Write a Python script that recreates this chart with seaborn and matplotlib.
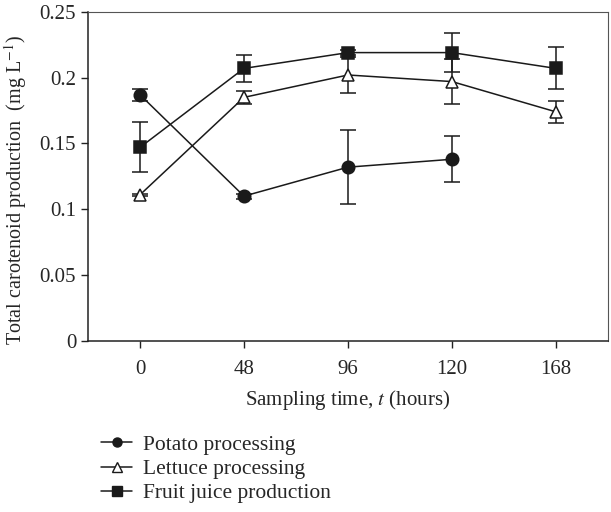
import numpy as np
import pandas as pd
import matplotlib
matplotlib.use("Agg")
import matplotlib.pyplot as plt
from matplotlib.lines import Line2D
import seaborn as sns

# data
times = ["0", "48", "96", "120", "168"]
potato = [0.187, 0.110, 0.132, 0.138, np.nan]
potato_err = [0.0045, 0.002, 0.028, 0.0175, np.nan]
lettuce = [0.111, 0.185, 0.202, 0.197, 0.174]
lettuce_err = [0.001, 0.005, 0.014, 0.017, 0.0085]
juice = [0.147, 0.207, 0.219, 0.219, 0.207]
juice_err = [0.019, 0.0105, 0.002, 0.015, 0.016]
names = ["Potato processing", "Lettuce processing", "Fruit juice production"]

sns.set_style("ticks")
plt.rcParams["font.family"] = ["Liberation Serif", "DejaVu Serif"]
plt.rcParams["mathtext.fontset"] = "stix"

rows = []
for name, vals, errs in zip(names, [potato, lettuce, juice], [potato_err, lettuce_err, juice_err]):
    for i, (v, e) in enumerate(zip(vals, errs)):
        rows.append({"pos": i, "time": times[i], "value": v, "err": e, "series": name})
df = pd.DataFrame(rows).dropna()

fig = plt.figure(figsize=(6.11, 5.12), dpi=100)
ax = fig.add_axes([0.144, 0.334, 0.851, 0.643])

styles = {
    "Potato processing": dict(marker="o", mfc="#1a1a1a", ms=9),
    "Lettuce processing": dict(marker="^", mfc="white", ms=9),
    "Fruit juice production": dict(marker="s", mfc="#1a1a1a", ms=8),
}

for name in names:
    d = df[df["series"] == name]
    ax.errorbar(d["pos"], d["value"], yerr=d["err"], fmt="none", ecolor="#1a1a1a",
                elinewidth=1.1, capsize=6, capthick=1.1, zorder=2)

sns.lineplot(data=df, x="pos", y="value", hue="series", style="series",
             markers={"Potato processing": "o", "Lettuce processing": "^",
                      "Fruit juice production": "s"},
             dashes=False, palette=["#1a1a1a"] * 3, linewidth=1.1,
             markersize=9, ax=ax, legend=False, zorder=3)

# restyle markers (fill colors)
for line, name in zip(ax.get_lines()[-3:], names):
    st = styles[name]
    line.set_markerfacecolor(st["mfc"])
    line.set_markeredgecolor("#1a1a1a")
    line.set_markeredgewidth(1.1)
    line.set_markersize(st["ms"])

ax.set_xlim(-0.5, 4.5)
ax.set_ylim(0, 0.25)
ax.set_xticks(range(len(times)))
ax.set_xticklabels(times)
ax.set_yticks([0, 0.05, 0.1, 0.15, 0.2, 0.25])
ax.set_yticklabels(["0", "0.05", "0.1", "0.15", "0.2", "0.25"])
ax.tick_params(labelsize=15, length=5, width=1, color="#222222", direction="out")
ax.tick_params(axis="x", pad=9)
ax.set_xlabel(r"Sampling time, $\it{t}$ (hours)", fontsize=15, labelpad=6)
ax.set_ylabel(r"Total carotenoid production  (mg L$^{-1}$)", fontsize=14.5, labelpad=8)
ax.yaxis.label.set_y(0.46)

for s in ["left", "bottom"]:
    ax.spines[s].set_color("#222222")
    ax.spines[s].set_linewidth(1.1)
for s in ["top", "right"]:
    ax.spines[s].set_visible(True)
    ax.spines[s].set_color("#555555")
    ax.spines[s].set_linewidth(0.8)

handles = [Line2D([], [], color="#1a1a1a", lw=1.1, marker=styles[n]["marker"],
                  mfc=styles[n]["mfc"], mec="#1a1a1a", ms=6.5)
           for n in names]
fig.legend(handles, names, loc="upper left", bbox_to_anchor=(0.152, 0.168),
           frameon=False, fontsize=15.5, handlelength=1.4, handletextpad=0.55,
           labelspacing=0.2, borderaxespad=0)

fig.savefig("out.png", dpi=100)
